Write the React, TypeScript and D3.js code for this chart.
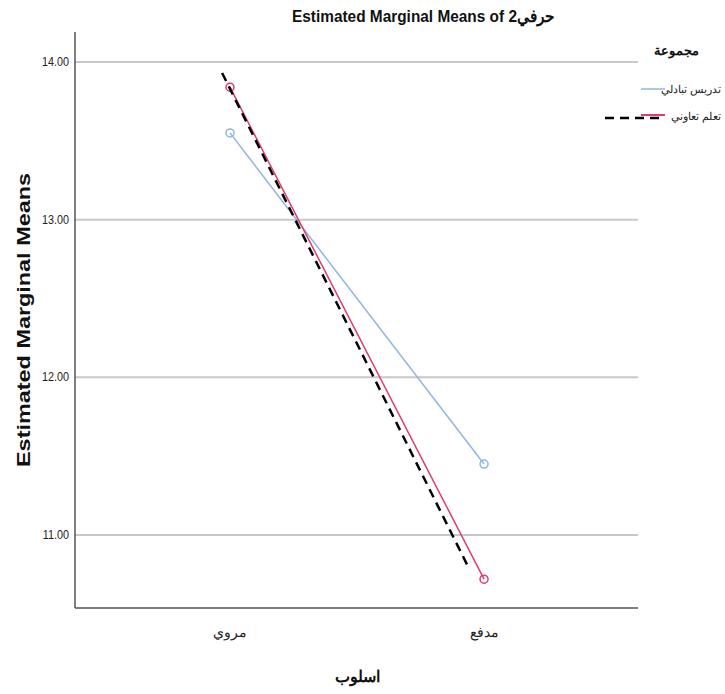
import React from "react";
import * as d3 from "d3";

const categories = ["مروي", "مدفع"];
const groupNames = ["تدريس تبادلي", "تعلم تعاوني"];
const blueValues = [13.55, 11.45];
const redValues = [13.84, 10.72];
// dashed reference line: [category position, value]
const dashedLine: [number, number][] = [
  [-0.031, 13.93],
  [0.937, 10.8],
];
const yTicks = [11, 12, 13, 14];
const title = "Estimated Marginal Means of 2حرفي";
const yTitle = "Estimated Marginal Means";
const xTitle = "اسلوب";
const legendTitle = "مجموعة";

const BLUE = "#8fb6e3";
const RED = "#dc3f6c";

export default function App() {
  const W = 725;
  const H = 694;
  const x = d3.scaleLinear().domain([-0.61, 1.606]).range([75, 638]);
  const y = d3.scaleLinear().domain([10.537, 14.19]).range([608, 32]);
  const line = d3
    .line<[number, number]>()
    .x((d) => x(d[0]))
    .y((d) => y(d[1]));
  const series = [
    { vals: blueValues, color: BLUE },
    { vals: redValues, color: RED },
  ];
  const font = "'Liberation Sans', Arial, sans-serif";
  return (
    <svg
      width={W}
      height={H}
      style={{ position: "absolute", left: 0, top: 0, background: "#fff" }}
    >
      <rect width={W} height={H} fill="#fff" />
      {yTicks.map((t) => (
        <g key={t}>
          <line x1={x(-0.61)} x2={x(1.606)} y1={y(t)} y2={y(t)} stroke="#c8c8c8" strokeWidth={2} />
          <text
            x={69}
            y={y(t) + 4}
            textAnchor="end"
            fontFamily={font}
            fontSize={12}
            fill="#222"
            transform={`translate(${69},0) scale(0.9,1) translate(${-69},0)`}
          >
            {t.toFixed(2)}
          </text>
        </g>
      ))}
      <line x1={75} x2={75} y1={32} y2={608} stroke="#555" strokeWidth={1.5} />
      <line x1={75} x2={638} y1={608} y2={608} stroke="#555" strokeWidth={1.5} />
      {categories.map((c, i) => (
        <text key={c} x={x(i)} y={637} textAnchor="middle" fontSize={14} fill="#222">
          {c}
        </text>
      ))}
      <text x={357} y={682} textAnchor="middle" fontSize={16} fontWeight="bold" fill="#111">
        {xTitle}
      </text>
      <text
        transform={`translate(30,320) rotate(-90)`}
        x={-147}
        textAnchor="start"
        fontFamily={font}
        fontSize={18}
        fontWeight="bold"
        fill="#111"
        textLength={294}
        lengthAdjust="spacingAndGlyphs"
      >
        {yTitle}
      </text>
      <text
        x={292}
        y={22}
        textAnchor="start"
        fontFamily={font}
        fontSize={17}
        fontWeight="bold"
        fill="#111"
        textLength={263}
        lengthAdjust="spacingAndGlyphs"
      >
        {title}
      </text>
      {series.map((s, k) => (
        <g key={k}>
          <path
            d={line(s.vals.map((v, i) => [i, v] as [number, number])) || ""}
            fill="none"
            stroke={s.color}
            strokeWidth={1.5}
          />
          {s.vals.map((v, i) => (
            <circle key={i} cx={x(i)} cy={y(v)} r={4} fill="none" stroke={s.color} strokeWidth={1.5} />
          ))}
        </g>
      ))}
      <path
        d={line(dashedLine) || ""}
        fill="none"
        stroke="#000"
        strokeWidth={2.5}
        strokeDasharray="9,6"
      />
      {/* legend */}
      <text x={676} y={55} textAnchor="middle" fontSize={13} fontWeight="bold" fill="#111">
        {legendTitle}
      </text>
      <line x1={641} x2={665} y1={89} y2={89} stroke={BLUE} strokeWidth={1.5} />
      <text x={721} y={93} textAnchor="end" fontSize={11} fill="#222">
        {groupNames[0]}
      </text>
      <line x1={641} x2={665} y1={115} y2={115} stroke={RED} strokeWidth={2} />
      <line x1={605} x2={665} y1={118} y2={118} stroke="#000" strokeWidth={2.5} strokeDasharray="9,6" />
      <text x={721} y={120} textAnchor="end" fontSize={11} fill="#222">
        {groupNames[1]}
      </text>
    </svg>
  );
}
